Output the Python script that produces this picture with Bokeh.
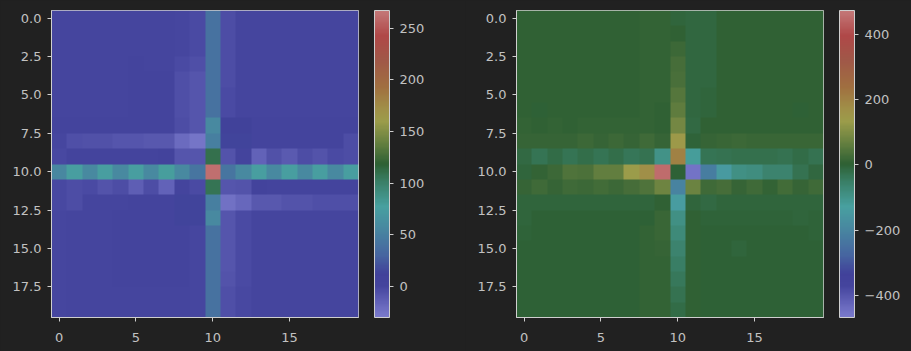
import numpy as np
from bokeh.plotting import figure
from bokeh.models import ColorBar, LinearColorMapper, FixedTicker, Range1d, PrintfTickFormatter
from bokeh.layouts import row
from bokeh.embed import file_html
from bokeh.resources import INLINE

# ---------------- data ----------------
left_matrix = [
    [1, 1, 1, 1, 1, 1, 1, 1, 0, -3, 40, -4, 1, 1, 1, 1, 1, 1, 1, 1],
    [1, 1, 1, 1, 1, 1, 1, 1, 0, -3, 40, -4, 1, 1, 1, 1, 1, 1, 1, 1],
    [1, 1, 1, 1, 1, 1, 1, 1, 0, -3, 40, -4, 1, 1, 1, 1, 1, 1, 1, 1],
    [1, 1, 1, 1, 1, 2, 1, 1, -3, -5, 40, -4, 1, 1, 1, 1, 1, 1, 1, 1],
    [1, 1, 1, 1, 1, 2, 2, 2, -5, -9, 40, -4, 1, 1, 1, 1, 1, 1, 1, 1],
    [1, 1, 1, 1, 1, 2, 2, 2, -5, -9, 40, -3, 1, 1, 1, 1, 1, 1, 1, 1],
    [1, 1, 1, 1, 1, 2, 2, 2, -5, -9, 40, -3, 1, 1, 1, 1, 1, 1, 1, 1],
    [2, 2, 2, 2, 2, 2, 3, 3, -4, -8, 58, 12, 12, 2, 3, 2, 2, 2, 2, 2],
    [0, -5, -6, -6, -8, -8, -10, -10, -20, -26, 50, 13, 13, 2, 2, 2, 2, 2, 2, -4],
    [-1, 2, 2, 3, 3, 3, 3, 7, -8, -8, 110, -7, 2, -15, -6, -11, -4, -7, -3, -4],
    [55, 75, 58, 75, 58, 75, 58, 78, 58, 42, 262, 42, 58, 75, 58, 75, 58, 75, 58, 75],
    [-2, -4, -3, -7, -4, -13, -4, -16, 3, -3, 108, -9, -7, 5, 3, 3, 3, 3, 3, 2],
    [-2, -4, 1, 1, 1, 2, 2, 2, 14, 14, 50, -24, -18, -10, -10, -7, -7, -5, -5, -5],
    [0, 1, 1, 1, 2, 3, 4, 2, 14, 14, 58, -8, -3, 1, 1, 1, 1, 1, 1, 1],
    [0, 1, 1, 1, 2, 2, 2, 2, 2, 0, 40, -8, -3, 1, 1, 1, 1, 1, 1, 1],
    [0, 1, 1, 1, 2, 2, 2, 2, 2, 0, 40, -8, -3, 1, 1, 1, 1, 1, 1, 1],
    [0, 1, 1, 1, 2, 2, 2, 2, 2, 0, 40, -8, -3, 1, 1, 1, 1, 1, 1, 1],
    [0, 1, 1, 1, 2, 2, 2, 2, 2, 0, 40, -7, -3, 1, 1, 1, 1, 1, 1, 1],
    [0, 1, 1, 1, 1, 1, 1, 1, 1, 0, 40, -5, -2, 1, 1, 1, 1, 1, 1, 1],
    [0, 1, 1, 1, 1, 1, 1, 1, 1, 0, 40, -5, -2, 1, 1, 1, 1, 1, 1, 1],
]

right_matrix = [
    [3, 3, 3, 3, 3, 3, 3, 3, 8, 8, -5, -10, -10, 3, 3, 3, 3, 3, 3, 3],
    [3, 3, 3, 3, 3, 3, 3, 3, 8, 8, 5, -10, -10, 3, 3, 3, 3, 3, 3, 3],
    [3, 3, 3, 3, 3, 3, 3, 3, 8, 8, 20, -10, -10, 3, 3, 3, 3, 3, 3, 3],
    [3, 3, 3, 3, 3, 3, 3, 3, 8, 8, 30, -10, -10, 3, 3, 3, 3, 3, 3, 3],
    [3, 3, 3, 3, 3, 3, 3, 3, 8, 8, 35, -10, -10, 3, 3, 3, 3, 3, 3, 3],
    [3, 3, 3, 3, 3, 3, 6, 3, 8, 8, 50, -10, -8, 3, 3, 3, 3, 3, 3, 3],
    [4, 2, 4, 4, 4, 4, 4, 4, 8, 4, 60, -10, -6, 3, 3, 3, 3, 3, 2, 3],
    [8, 4, 8, 5, 8, 8, 8, 8, 10, 5, 85, -12, 5, 5, 5, 5, 5, 5, 5, 5],
    [12, 12, 12, 12, 18, 12, 18, 12, 25, 12, 145, -3, 12, 15, 20, 15, 15, 15, 15, 15],
    [-15, -32, -18, -32, -20, -32, -20, -36, -28, -95, 205, -120, -32, -28, -25, -25, -25, -30, -16, -28],
    [-5, 8, 18, 40, 38, 65, 65, 135, 175, 455, 0, -450, -220, -145, -90, -85, -60, -60, -30, -10],
    [12, 25, 12, 22, 18, 28, 20, 30, 40, 80, -205, 75, 25, 30, 12, 25, 10, 28, 12, 25],
    [-8, -8, -8, -8, -8, -8, -8, -8, -8, 5, -140, -8, -15, -8, -8, -8, -8, -8, -8, -8],
    [-6, 0, 0, 0, 0, 0, 0, 0, 2, 15, -90, 5, -2, -2, -2, -2, -2, -2, -5, -2],
    [-2, 0, 0, 0, 0, 0, 0, 0, 10, 15, -75, 3, 0, 0, 0, 0, 0, 0, 0, -2],
    [0, 0, 0, 0, 0, 0, 0, 0, 10, 12, -60, 3, 0, 0, -6, 0, 0, 0, 0, 0],
    [0, 0, 0, 0, 0, 0, 0, 0, 8, 8, -50, 3, 0, 0, 0, 0, 0, 0, 0, 0],
    [0, 0, 0, 0, 0, 0, 0, 0, 8, 8, -40, 3, 0, 0, 0, 0, 0, 0, 0, 0],
    [0, 0, 0, 0, 0, 0, 0, 0, 8, 8, -28, 3, 0, 0, 0, 0, 0, 0, 0, 0],
    [0, 0, 0, 0, 0, 0, 0, 0, 8, 8, -18, 3, 0, 0, 0, 0, 0, 0, 0, 0],
]

left_range = (-30, 267)
right_range = (-468, 474)
left_cb_ticks = [0, 50, 100, 150, 200, 250]
right_cb_ticks = [-400, -200, 0, 200, 400]
y_ticks = [0, 2.5, 5, 7.5, 10, 12.5, 15, 17.5]
x_ticks = [0, 5, 10, 15]

# ---------------- style ----------------
BG = "#212121"
FG = "#c2c2c2"
EDGE = "#cfcfcf"
FONT = "DejaVu Sans"

stops = [
    (0.00, "#7a7acc"), (0.03, "#6c6cc0"), (0.10, "#45459e"), (0.14, "#41419a"),
    (0.20, "#4664a0"), (0.29, "#4888a0"), (0.36, "#48a0a0"), (0.44, "#3a8068"),
    (0.50, "#2e6034"), (0.57, "#668040"), (0.64, "#9c9c4a"), (0.68, "#a09048"),
    (0.75, "#a07040"), (0.84, "#a05848"), (0.92, "#b04848"), (1.00, "#c47878"),
]


def build_palette(n=256):
    ts = np.array([s[0] for s in stops])
    rgb = np.array([[int(s[1][i:i + 2], 16) for i in (1, 3, 5)] for s in stops], dtype=float)
    grid = np.linspace(0, 1, n)
    out = []
    for g in grid:
        c = [np.interp(g, ts, rgb[:, k]) for k in range(3)]
        out.append("#%02x%02x%02x" % tuple(int(round(v)) for v in c))
    return out


palette = build_palette()


def panel(matrix, vrange, cb_ticks, width, right_border):
    mapper = LinearColorMapper(palette=palette, low=vrange[0], high=vrange[1])
    p = figure(width=width, height=351, output_backend="svg", toolbar_location=None,
               x_range=Range1d(-0.5, 19.5), y_range=Range1d(19.5, -0.5),
               min_border_left=51, min_border_right=right_border,
               min_border_top=10, min_border_bottom=34)
    arr = np.array(matrix, dtype=float)
    p.image(image=[arr], x=-0.5, y=-0.5, dw=20, dh=20, color_mapper=mapper)
    p.background_fill_color = BG
    p.border_fill_color = BG
    p.outline_line_color = EDGE
    p.outline_line_width = 1
    p.grid.visible = False
    for ax in (p.xaxis[0], p.yaxis[0]):
        ax.axis_line_color = EDGE
        ax.major_tick_line_color = EDGE
        ax.major_tick_out = 4
        ax.major_tick_in = 0
        ax.minor_tick_line_color = None
        ax.major_label_text_color = FG
        ax.major_label_text_font = FONT
        ax.major_label_text_font_size = "13px"
    p.xaxis.major_label_standoff = 11
    p.yaxis.major_label_standoff = 6
    p.xaxis.ticker = FixedTicker(ticks=x_ticks)
    p.yaxis.ticker = FixedTicker(ticks=y_ticks)
    p.yaxis.formatter = PrintfTickFormatter(format="%.1f")
    cb = ColorBar(color_mapper=mapper, ticker=FixedTicker(ticks=cb_ticks),
                  width=15, padding=0, margin=0, height=307, location=(16, 0),
                  bar_line_color=EDGE, major_tick_line_color=EDGE,
                  major_tick_in=0, major_tick_out=4, minor_tick_line_color=None,
                  major_label_text_color=FG, major_label_text_font=FONT,
                  major_label_text_font_size="13px", label_standoff=6,
                  background_fill_color=None, border_line_color=None,
                  major_label_overrides={t: ("\u2212%d" % -t if t < 0 else "%d" % t) for t in cb_ticks})
    p.add_layout(cb, "right")
    return p


p1 = panel(left_matrix, left_range, left_cb_ticks, 465, 107)
p2 = panel(right_matrix, right_range, right_cb_ticks, 446, 88)
layout = row(p1, p2)
layout.styles = {"background-color": BG}

open("out.html", "w").write(file_html(layout, INLINE))
